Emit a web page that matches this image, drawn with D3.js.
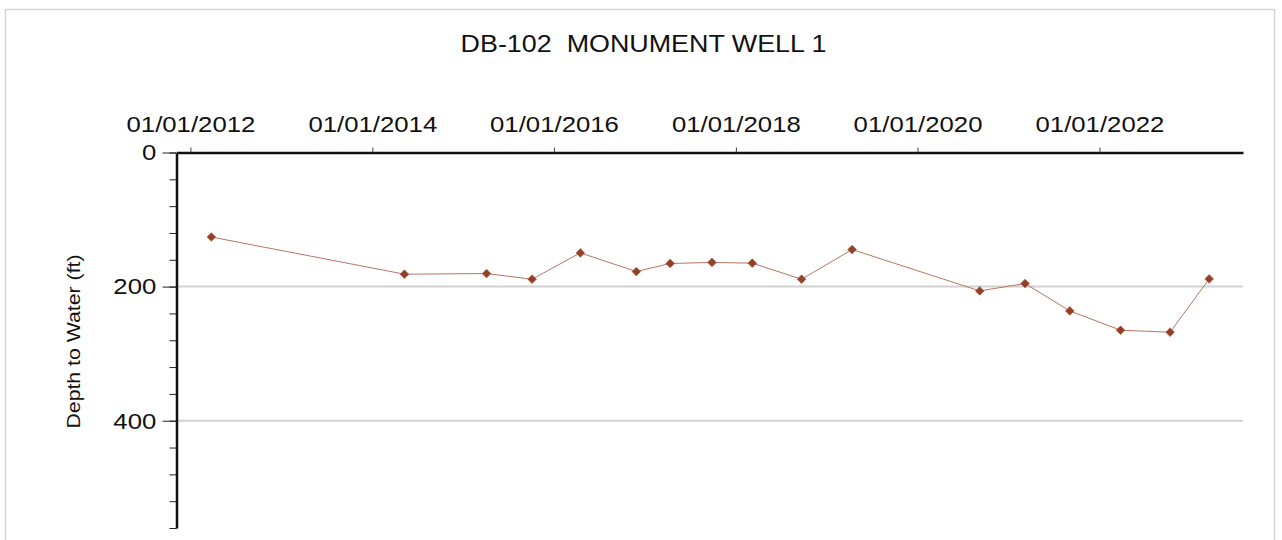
<!DOCTYPE html>
<html>
<head>
<meta charset="utf-8">
<script src="https://cdn.jsdelivr.net/npm/d3@7"></script>
<style>
  html, body { margin: 0; padding: 0; background: #ffffff; }
  svg { display: block; }
  text { font-family: "Liberation Sans", Arial, sans-serif; fill: #111; white-space: pre; }
</style>
</head>
<body>
<svg id="chart" width="1282" height="540"></svg>
<script>
// ---- data ----
const title = "DB-102  MONUMENT WELL 1";
const yLabel = "Depth to Water (ft)";
const dates = ["2012-03-25","2014-05-10","2015-04-05","2015-10-05","2016-04-16","2016-11-27",
               "2017-04-12","2017-09-27","2018-03-08","2018-09-22","2019-04-13","2020-09-07",
               "2021-03-08","2021-09-04","2022-03-27","2022-10-12","2023-03-18"];
const depths = [126, 181.5, 180.5, 189, 149.7, 177.5, 165.5, 164, 165, 189, 144.7, 206.4,
                195.4, 236.2, 265, 268, 188.5];
const xTickYears = [2012, 2014, 2016, 2018, 2020, 2022];
const yMajorTicks = [0, 200, 400];
const yMinorTicks = [0, 40, 80, 120, 160, 200, 240, 280, 320, 360, 400, 440, 480, 520, 560];
const yGridValues = [200, 400];
const xDomain = ["2011-11-06", "2023-08-01"];
const yDomain = [0, 560];

(function () {
const parse = d3.timeParse("%Y-%m-%d");
const data = dates.map((d, i) => ({ date: parse(d), depth: depths[i] }));

const svg = d3.select("#chart");
const stretch = 1.12;

// frame
svg.append("rect")
  .attr("x", 5.5).attr("y", 9.5).attr("width", 1269).attr("height", 600)
  .attr("fill", "none").attr("stroke", "#d6d6d6").attr("stroke-width", 1.5);

const pLeft = 176.5, pRight = 1243, pTop = 152.5, pBottom = 528;
const x = d3.scaleTime().domain(xDomain.map(parse)).range([pLeft, pRight]);
const y = d3.scaleLinear().domain(yDomain).range([pTop, pBottom]);

// title
svg.append("g").attr("transform", "translate(643.5,52)")
  .append("text")
  .attr("text-anchor", "middle")
  .attr("font-size", 24)
  .attr("xml:space", "preserve")
  .attr("transform", `scale(${stretch},1)`)
  .text(title);

// gridlines
svg.append("g").selectAll("line").data(yGridValues).join("line")
  .attr("x1", pLeft).attr("x2", pRight)
  .attr("y1", d => y(d)).attr("y2", d => y(d))
  .attr("stroke", "#d2d2d2").attr("stroke-width", 2);

// y minor ticks
const yMinor = svg.append("g").attr("transform", `translate(${pLeft},0)`)
  .call(d3.axisLeft(y).tickValues(yMinorTicks).tickSize(7).tickFormat(""));
yMinor.select(".domain").remove();
yMinor.selectAll("line").attr("stroke", "#222").attr("stroke-width", 1);

// y major axis
const yAx = svg.append("g").attr("transform", `translate(${pLeft},0)`)
  .call(d3.axisLeft(y).tickValues(yMajorTicks).tickSize(14).tickPadding(4).tickSizeOuter(0));
yAx.select(".domain").attr("stroke", "#111").attr("stroke-width", 2.5);
yAx.selectAll(".tick line").attr("stroke", "#222").attr("stroke-width", 1);
yAx.selectAll("text").attr("font-size", 23).attr("fill", "#111")
  .attr("font-family", "Liberation Sans, Arial, sans-serif")
  .attr("transform", `scale(${stretch},1)`);

// x axis (top)
const xAx = svg.append("g").attr("transform", `translate(0,${pTop})`)
  .call(d3.axisTop(x)
    .tickValues(xTickYears.map(yr => new Date(yr, 0, 1)))
    .tickFormat(d3.timeFormat("%m/%d/%Y"))
    .tickSize(5).tickPadding(16).tickSizeOuter(0));
xAx.select(".domain").attr("stroke", "#111").attr("stroke-width", 2.5);
xAx.selectAll(".tick line").attr("stroke", "#444").attr("stroke-width", 1);
xAx.selectAll("text").attr("font-size", 23).attr("fill", "#111")
  .attr("font-family", "Liberation Sans, Arial, sans-serif")
  .attr("transform", `scale(${stretch},1)`);

// y label
svg.append("g").attr("transform", "translate(80,341.5) rotate(-90)")
  .append("text")
  .attr("text-anchor", "middle")
  .attr("font-size", 19)
  .attr("transform", `scale(${stretch},1)`)
  .text(yLabel);

// line
const line = d3.line().x(d => x(d.date)).y(d => y(d.depth));
svg.append("path").datum(data)
  .attr("d", line)
  .attr("fill", "none")
  .attr("stroke", "#b87565")
  .attr("stroke-width", 1);

// markers (square diamonds)
svg.append("g").selectAll("path").data(data).join("path")
  .attr("transform", d => `translate(${x(d.date)},${y(d.depth)}) rotate(45)`)
  .attr("d", d3.symbol().type(d3.symbolSquare).size(38))
  .attr("fill", "#93402b")
  .attr("stroke", "#b0583a")
  .attr("stroke-width", 0.6);
})();
</script>
</body>
</html>
